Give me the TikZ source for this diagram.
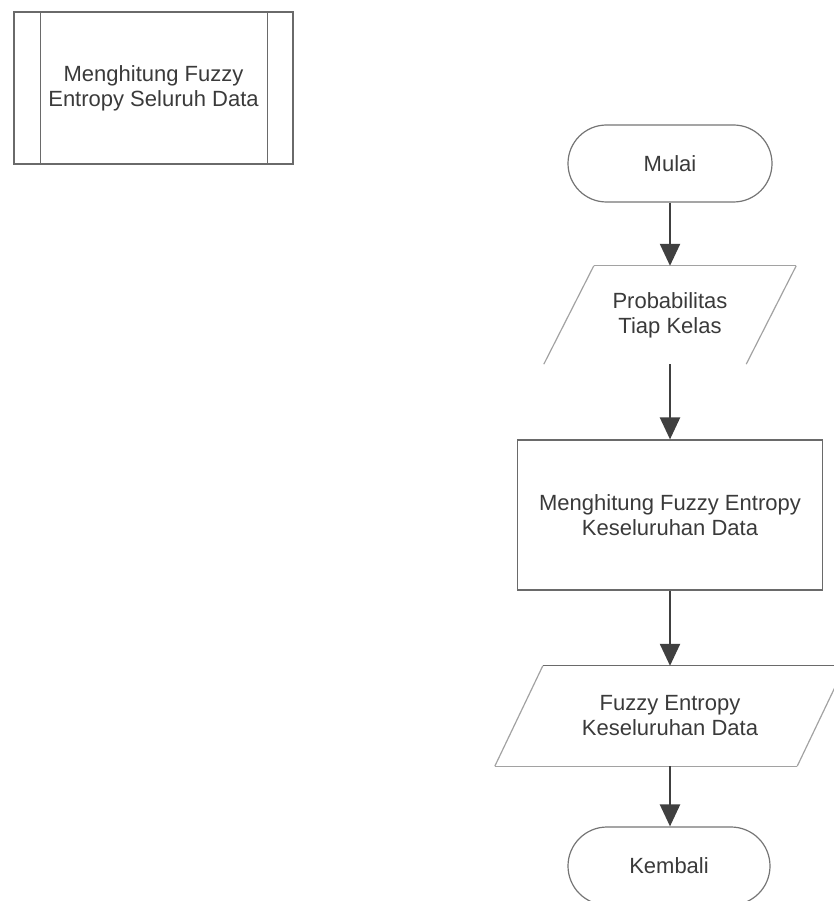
\documentclass[tikz,border=0pt]{standalone}
\usepackage{fontspec}
\setmainfont{Liberation Sans}
\usetikzlibrary{shapes.misc,arrows.meta,calc}
\definecolor{edge}{HTML}{6A6A6A}
\definecolor{faint}{HTML}{A2A2A2}
\definecolor{ink}{HTML}{3A3A3A}
\definecolor{arrowc}{HTML}{404040}
\begin{document}
\begin{tikzpicture}[x=1pt,y=-1pt,
  txt/.style={font=\fontsize{22}{25}\selectfont, text=ink, align=center, inner sep=0pt},
  term/.style={txt, rounded rectangle, draw=edge!80!faint, line width=1.2pt,
               minimum width=204pt, minimum height=77pt},
  procbox/.style={txt, draw=edge, line width=1.2pt},
  solidedge/.style={draw=edge, line width=1.2pt},
  softedge/.style={draw=faint, line width=1.2pt},
  flow/.style={draw=arrowc, line width=2.4pt, -{Triangle[width=20pt,length=22pt]}}]

\useasboundingbox (0,0) rectangle (833,901);

% predefined process symbol
\node[procbox, minimum width=279pt, minimum height=152pt] (sub) at (153.5,88)
  {Menghitung Fuzzy\\Entropy Seluruh Data};
\draw[solidedge] ($(sub.north west)+(27pt,0)$) -- ($(sub.south west)+(27pt,0)$);
\draw[solidedge] ($(sub.north east)+(-26pt,0)$) -- ($(sub.south east)+(-26pt,0)$);

% start terminator
\node[term] (start) at (670,163.5) {Mulai};

% input: class probabilities
\node[txt, minimum width=202pt, minimum height=98pt] (prob) at (670,315)
  {Probabilitas\\Tiap Kelas};
\draw[softedge] ($(prob.south west)+(-25pt,0)$) -- ($(prob.north west)+(25pt,0)$);
\draw[softedge] ($(prob.north east)+(25pt,0)$) -- ($(prob.south east)+(-25pt,0)$);
\draw[softedge] ($(prob.north west)+(25pt,0)$) -- ($(prob.north east)+(25pt,0)$);

% process
\node[procbox, minimum width=305pt, minimum height=150pt] (hitung) at (670,515)
  {Menghitung Fuzzy Entropy\\Keseluruhan Data};

% output: fuzzy entropy
\node[txt, minimum width=302pt, minimum height=100pt] (hasil) at (670,716)
  {Fuzzy Entropy\\Keseluruhan Data};
\draw[softedge] ($(hasil.south west)+(-24pt,0)$) -- ($(hasil.north west)+(24pt,0)$);
\draw[softedge] ($(hasil.north east)+(24pt,0)$) -- ($(hasil.south east)+(-24pt,0)$);
\draw[softedge] ($(hasil.south west)+(-24pt,0)$) -- ($(hasil.south east)+(-24pt,0)$);
\draw[solidedge] ($(hasil.north west)+(24pt,0)$) -- ($(hasil.north east)+(24pt,0)$);

% end terminator
\node[term, minimum width=202pt, minimum height=78pt] (selesai) at (669,866) {Kembali};

% flow connectors
\draw[flow] (start.south) -- (prob.north);
\draw[flow] (prob.south) -- (hitung.north);
\draw[flow] (hitung.south) -- (hasil.north);
\draw[flow] (hasil.south) -- (selesai.north -| hasil.south);
\end{tikzpicture}
\end{document}
